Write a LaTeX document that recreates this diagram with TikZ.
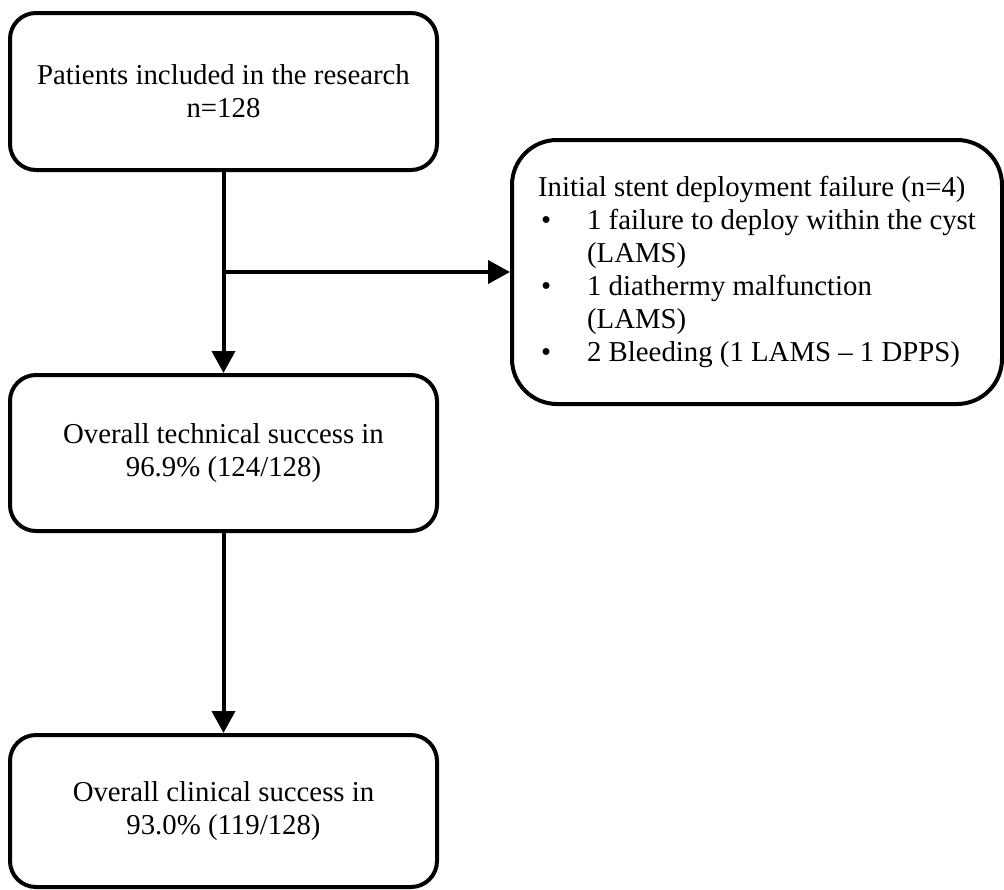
\documentclass[tikz,border=0pt]{standalone}
\usepackage{fontspec}
\setmainfont{Liberation Serif}
\usetikzlibrary{arrows.meta}
\newcommand{\bul}{\makebox[49pt][l]{\hspace*{3pt}\textbullet}}
\begin{document}
\begin{tikzpicture}[x=1pt,y=-1pt,
  txt/.style={font=\fontsize{28.8}{33}\selectfont},
  box/.style={txt, draw, line width=4pt, rounded corners=26pt, minimum width=427pt, align=center, inner sep=0pt},
  sidebox/.style={txt, draw, line width=4pt, rounded corners=45pt, minimum width=490pt, inner sep=0pt, minimum height=264pt, align=left},
  arr/.style={line width=4pt, -{Triangle[length=22pt,width=23pt]}}]
\useasboundingbox (0,0) rectangle (1004,889);
\node[box, minimum height=157pt] (b1) at (223.5,91.5) {Patients included in the research\\n=128};
\node[sidebox] (b2) at (757,272) {Initial stent deployment failure (n=4)\\
\bul 1 failure to deploy within the cyst\\
\hspace*{49pt}(LAMS)\\
\bul 1 diathermy malfunction\\
\hspace*{49pt}(LAMS)\\
\bul 2 Bleeding (1 LAMS \textendash{} 1 DPPS)};
\node[box, minimum height=156pt] (b3) at (223.5,453) {Overall technical success in\\96.9\% (124/128)};
\node[box, minimum height=152pt] (b4) at (223.5,811) {Overall clinical success in\\93.0\% (119/128)};
\coordinate (j) at (b1.south |- b2.west);
\draw[arr] (b1.south) -- (b3.north);
\draw[arr] (j) -- (b2.west);
\draw[arr] (b3.south) -- (b4.north);
\end{tikzpicture}
\end{document}
